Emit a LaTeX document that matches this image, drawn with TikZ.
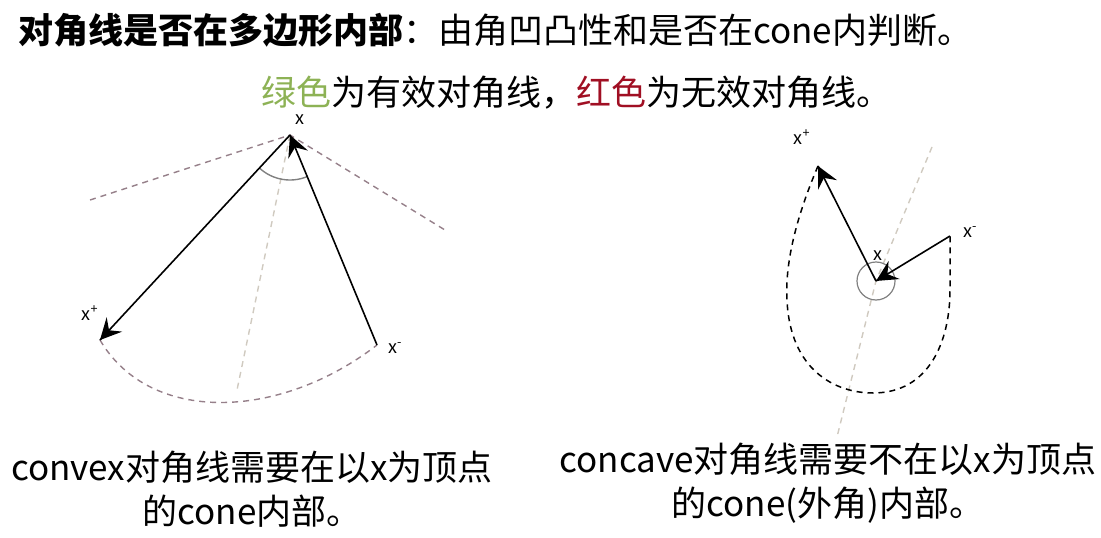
\documentclass[tikz,border=0pt]{standalone}
\usepackage{fontspec}
\setmainfont{Noto Sans CJK SC}
\usepackage{xcolor}
\usepackage{tikz}
\usetikzlibrary{calc}
\usetikzlibrary{arrows,decorations.markings}
\definecolor{validgreen}{RGB}{141,178,85}
\definecolor{invalidred}{RGB}{160,15,35}
\definecolor{conegray}{RGB}{150,128,138}
\definecolor{paleline}{RGB}{208,202,192}
\tikzstyle{edgearrow} = [line width=1.6pt, decoration={markings,mark=at position 1 with
	{\arrow[scale=3.5,>=stealth]{>}}},postaction={decorate}]
\tikzstyle{conedash} = [conegray, line width=1.4pt, dash pattern=on 6pt off 5pt]
\tikzstyle{paledash} = [paleline, line width=1.4pt, dash pattern=on 6pt off 5pt]
\tikzstyle{ptlabel} = [font=\fontsize{18}{18}\selectfont, inner sep=0pt]
\tikzstyle{bigtext} = [font=\fontsize{35}{44}\selectfont, align=center, inner sep=0pt]

\begin{document}
\begin{tikzpicture}[x=1pt,y=1pt]
	\useasboundingbox (0,0) rectangle (1101,-538);

	\node[bigtext, anchor=west] (title) at (18,-30) {\textbf{对角线是否在多边形内部}：由角凹凸性和是否在cone内判断。};
	\node[bigtext] (legend) at (576,-93) {\textcolor{validgreen}{绿色}为有效对角线，\textcolor{invalidred}{红色}为无效对角线。};

	\begin{scope} % convex vertex
	\coordinate (apex) at (290,-135);
	\coordinate (xp) at (100,-340);
	\coordinate (xm) at (377,-345);
	\coordinate (leftend) at (90,-200);
	\coordinate (rightend) at (445,-230);
	\coordinate (midend) at (237,-390);
	\draw[conedash] (leftend) -- (apex) -- (rightend);
	\draw[paledash] (apex) -- (midend);
	\draw[conedash] (xp) .. controls (150,-425) and (280,-420) .. (xm);
	\draw[gray, line width=1.4pt] ($(apex)+(-133:45)$) arc (-133:-67:45);
	\draw[edgearrow] (apex) -- (xp);
	\draw[edgearrow] (xm) -- (apex);
	\node[ptlabel] (xlab) at (300,-120) {x};
	\node[ptlabel] (xplab) at (90,-313) {x\textsuperscript{+}};
	\node[ptlabel] (xmlab) at (395,-348) {x\textsuperscript{-}};
	\end{scope}

	\begin{scope} % concave vertex
	\coordinate (cx) at (876,-281);
	\coordinate (rxp) at (818,-166);
	\coordinate (rxm) at (950,-236);
	\coordinate (topend) at (932,-147);
	\coordinate (lowend) at (837,-437);
	\draw[paledash] (topend) -- (cx) -- (lowend);
	\draw[black, line width=1.5pt, dash pattern=on 6pt off 5pt] (rxp) .. controls (795,-220) and (785,-265) .. (787,-300)
		.. controls (790,-370) and (835,-393) .. (873,-393)
		.. controls (930,-393) and (950,-340) .. (950,-290) -- (rxm);
	\draw[gray, line width=1.2pt] (cx) circle (19);
	\draw[edgearrow] (cx) -- (rxp);
	\draw[edgearrow] (rxm) -- (cx);
	\node[ptlabel] (cxlab) at (878,-256) {x};
	\node[ptlabel] (rxplab) at (802,-137) {x\textsuperscript{+}};
	\node[ptlabel] (rxmlab) at (970,-232) {x\textsuperscript{-}};
	\end{scope}

	\node[bigtext] (convextext) at (252,-489) {convex对角线需要在以x为顶点\\的cone内部。};
	\node[bigtext] (concavetext) at (828,-483) {concave对角线需要不在以x为顶点\\的cone(外角)内部。};
\end{tikzpicture}
\end{document}
